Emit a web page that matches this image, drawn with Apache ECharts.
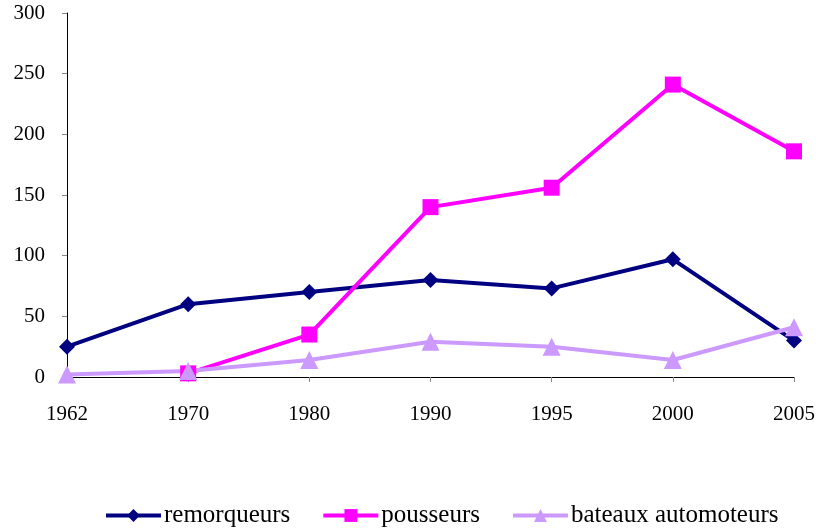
<!DOCTYPE html>
<html>
<head>
<meta charset="utf-8">
<script src="https://cdn.jsdelivr.net/npm/echarts@6/dist/echarts.min.js"></script>
<style>
  html, body { margin: 0; padding: 0; background: #fff; }
  #chart { width: 818px; height: 531px; }
</style>
</head>
<body>
<div id="chart"></div>
<script>
const years = ["1962", "1970", "1980", "1990", "1995", "2000", "2005"];
const remorqueurs = [25, 60, 70, 80, 73, 97, 30];
const pousseurs = [null, 3, 35, 140, 156, 241, 186];
const bateaux = [2, 5, 14, 29, 25, 14, 41];

const font = "Liberation Serif";
const chart = echarts.init(document.getElementById("chart"));

function line(name, data, color, symbol, size) {
  return {
    name: name,
    type: "line",
    data: data,
    symbol: symbol,
    symbolSize: size,
    showSymbol: true,
    lineStyle: { color: color, width: 4 },
    itemStyle: { color: color },
    emphasis: { disabled: true },
    animation: false,
  };
}

chart.setOption({
  animation: false,
  textStyle: { fontFamily: font },
  grid: { left: 67, right: 22, top: 13, bottom: 154 },
  legend: {
    top: 503,
    left: 104,
    padding: 0,
    itemWidth: 55,
    itemHeight: 16,
    itemGap: 31,
    lineStyle: { width: 4 },
    textStyle: { fontFamily: font, fontSize: 25, color: "#000", padding: [0, 0, 0, -2] },
    data: ["remorqueurs", "pousseurs", "bateaux automoteurs"],
  },
  xAxis: {
    type: "category",
    data: years,
    boundaryGap: false,
    axisLine: { lineStyle: { color: "#000", width: 1 } },
    axisTick: { alignWithLabel: true, length: 5, lineStyle: { color: "#888" } },
    axisLabel: { fontFamily: font, fontSize: 21, color: "#000", margin: 27 },
    splitLine: { show: false },
  },
  yAxis: {
    type: "value",
    min: 0,
    max: 300,
    interval: 50,
    axisLine: { show: true, lineStyle: { color: "#000", width: 1 } },
    axisTick: { show: true, length: 5, lineStyle: { color: "#888" } },
    axisLabel: { fontFamily: font, fontSize: 21, color: "#000", margin: 22 },
    splitLine: { show: false },
  },
  series: [
    line("remorqueurs", remorqueurs, "#000080", "diamond", 16),
    line("pousseurs", pousseurs, "#ff00ff", "rect", 16),
    line("bateaux automoteurs", bateaux, "#cc99ff", "triangle", 18),
  ],
});
</script>
</body>
</html>
